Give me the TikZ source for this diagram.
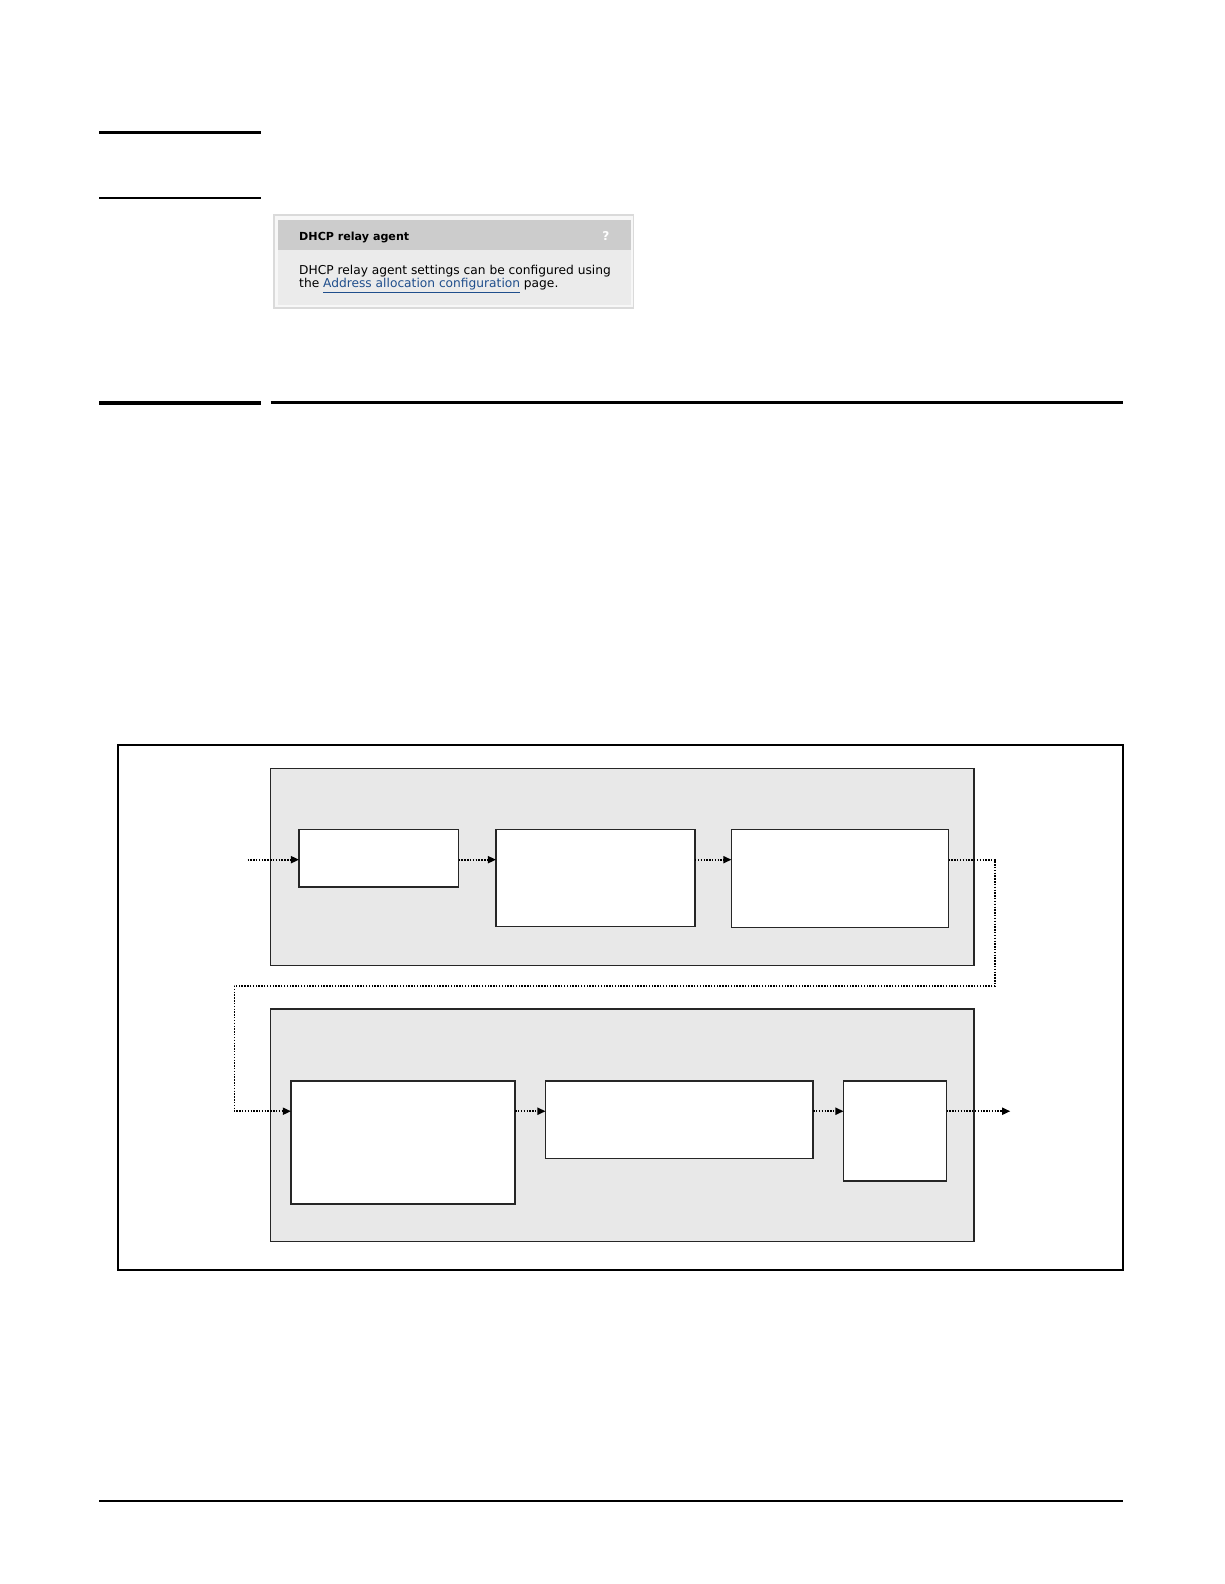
\documentclass[tikz,border=0pt]{standalone}
\usepackage{fontspec}
\setmainfont{DejaVu Sans}
\usetikzlibrary{arrows.meta}
\definecolor{groupgray}{HTML}{E8E8E8}
\definecolor{headgray}{HTML}{CCCCCC}
\definecolor{bodygray}{HTML}{EBEBEB}
\definecolor{edgegray}{HTML}{DADADA}
\definecolor{linkblue}{HTML}{1F4E8C}
\tikzstyle{block} = [draw=black!85, rectangle, line width=1.5pt, inner sep=0pt, outer sep=0pt, fill=white]
\tikzstyle{group} = [draw=black!85, rectangle, line width=1.4pt, inner sep=0pt, outer sep=0pt, fill=groupgray]
\tikzstyle{flow} = [-{Triangle[length=8pt, width=7pt]}, line width=1.6pt, dash pattern=on 1.4pt off 1.4pt]
\tikzstyle{rule} = [line width=3pt]
\tikzstyle{gui} = [anchor=base west, inner sep=0pt, font=\fontsize{12.1}{14}\selectfont]

\begin{document}
\begin{tikzpicture}[x=1pt, y=-1pt]
    \useasboundingbox (0,0) rectangle (1212,1568);

    % page rules
    \draw [rule] (98,131) -- (258,131);
    \draw [line width=2.5pt] (98,196) -- (258,196);
    \draw [line width=4pt] (98,398.5) -- (258,398.5);
    \draw [rule] (268,398.5) -- (1112,398.5);
    \draw [line width=2pt] (98,1486) -- (1112,1486);

    % screenshot panel
    \draw [draw=edgegray, fill=gray!6, line width=1.5pt] (271,213) rectangle (627,305);
    \fill [headgray] (275,218) rectangle (625,247);
    \fill [bodygray] (275,247) rectangle (625,302);
    \node (panel title) [gui, font=\bfseries\fontsize{11}{14}\selectfont] at (296,238) {DHCP relay agent};
    \node (panel help) [gui, text=white, font=\bfseries\fontsize{12}{14}\selectfont] at (596,238) {?};
    \node (panel line 1) [gui] at (296,272) {DHCP relay agent settings can be configured using};
    \node (panel line 2) [gui] at (296,285) {the \textcolor{linkblue}{\underline{Address allocation configuration}} page.};

    % figure frame
    \draw [line width=2pt] (117,737) rectangle (1112,1257);

    \node (group 1) [group, minimum width=696pt, minimum height=195pt] at (616,858.5) {};
    \node (group 2) [group, minimum width=696pt, minimum height=230pt] at (616,1114) {};

    \node (box 1) [block, minimum width=158pt, minimum height=57pt] at (375,849.5) {};
    \node (box 2) [block, minimum width=197pt, minimum height=96pt] at (589.5,869) {};
    \node (box 3) [block, minimum width=215pt, minimum height=97pt] at (831.5,869.5) {};
    \node (box 4) [block, minimum width=222pt, minimum height=122pt] at (399,1131) {};
    \node (box 5) [block, minimum width=265pt, minimum height=77pt] at (672.5,1108.5) {};
    \node (box 6) [block, minimum width=102pt, minimum height=99pt] at (886,1119.5) {};

    \coordinate (in) at (245,851);
    \coordinate (out) at (1000,1100);
    \coordinate (turn 1) at (985,976);
    \coordinate (turn 2) at (232,976);

    \draw [flow] (in) -- (in -| box 1.west);
    \foreach \i/\j in {1/2, 2/3} {
        \draw [flow] (box \i.east |- in) -- (in -| box \j.west);
    }
    \draw [flow] (box 3.east |- in) -| (turn 1) -- (turn 2) |- (out -| box 4.west);
    \foreach \i/\j in {4/5, 5/6} {
        \draw [flow] (box \i.east |- out) -- (out -| box \j.west);
    }
    \draw [flow] (box 6.east |- out) -- (out);
\end{tikzpicture}
\end{document}
